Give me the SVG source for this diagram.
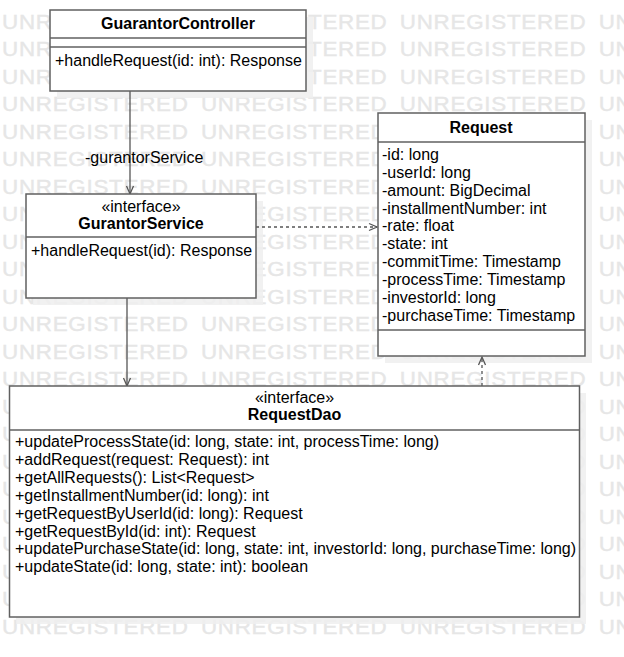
<svg xmlns="http://www.w3.org/2000/svg" width="624" height="657" viewBox="0 0 624 657">
<style>
  .wm { font-family: "Liberation Sans", Arial, sans-serif; font-size: 20px; fill: #e6e6e6; stroke: #e6e6e6; stroke-width: 0.35; letter-spacing: 0.65px; word-spacing: 4.8px; }
  .box { fill: #ffffff; stroke: #606060; stroke-width: 1.5; }
  .shadow { fill: #efefef; fill-opacity: 0.85; }
  .div { stroke: #606060; stroke-width: 1.5; }
  .t { font-family: "Liberation Sans", Arial, Helvetica, sans-serif; font-size: 16px; fill: #000; }
  .b { font-weight: bold; }
  .c { text-anchor: middle; }
  .edge { stroke: #555555; stroke-width: 1.3; fill: none; }
  .dash { stroke-dasharray: 3 3; }
</style>
<rect width="624" height="657" fill="#ffffff"/>
<g id="watermark" transform="scale(1.12,1)">
  <text class="wm" x="1.8" y="29">UNREGISTERED UNREGISTERED UNREGISTERED UNREGISTERED</text>
  <text class="wm" x="1.8" y="56.5">UNREGISTERED UNREGISTERED UNREGISTERED UNREGISTERED</text>
  <text class="wm" x="1.8" y="84">UNREGISTERED UNREGISTERED UNREGISTERED UNREGISTERED</text>
  <text class="wm" x="1.8" y="111.5">UNREGISTERED UNREGISTERED UNREGISTERED UNREGISTERED</text>
  <text class="wm" x="1.8" y="139">UNREGISTERED UNREGISTERED UNREGISTERED UNREGISTERED</text>
  <text class="wm" x="1.8" y="166.5">UNREGISTERED UNREGISTERED UNREGISTERED UNREGISTERED</text>
  <text class="wm" x="1.8" y="194">UNREGISTERED UNREGISTERED UNREGISTERED UNREGISTERED</text>
  <text class="wm" x="1.8" y="221.5">UNREGISTERED UNREGISTERED UNREGISTERED UNREGISTERED</text>
  <text class="wm" x="1.8" y="249">UNREGISTERED UNREGISTERED UNREGISTERED UNREGISTERED</text>
  <text class="wm" x="1.8" y="276.5">UNREGISTERED UNREGISTERED UNREGISTERED UNREGISTERED</text>
  <text class="wm" x="1.8" y="304">UNREGISTERED UNREGISTERED UNREGISTERED UNREGISTERED</text>
  <text class="wm" x="1.8" y="331.5">UNREGISTERED UNREGISTERED UNREGISTERED UNREGISTERED</text>
  <text class="wm" x="1.8" y="359">UNREGISTERED UNREGISTERED UNREGISTERED UNREGISTERED</text>
  <text class="wm" x="1.8" y="386.5">UNREGISTERED UNREGISTERED UNREGISTERED UNREGISTERED</text>
  <text class="wm" x="1.8" y="414">UNREGISTERED UNREGISTERED UNREGISTERED UNREGISTERED</text>
  <text class="wm" x="1.8" y="441.5">UNREGISTERED UNREGISTERED UNREGISTERED UNREGISTERED</text>
  <text class="wm" x="1.8" y="469">UNREGISTERED UNREGISTERED UNREGISTERED UNREGISTERED</text>
  <text class="wm" x="1.8" y="496.5">UNREGISTERED UNREGISTERED UNREGISTERED UNREGISTERED</text>
  <text class="wm" x="1.8" y="524">UNREGISTERED UNREGISTERED UNREGISTERED UNREGISTERED</text>
  <text class="wm" x="1.8" y="551.5">UNREGISTERED UNREGISTERED UNREGISTERED UNREGISTERED</text>
  <text class="wm" x="1.8" y="579">UNREGISTERED UNREGISTERED UNREGISTERED UNREGISTERED</text>
  <text class="wm" x="1.8" y="606.5">UNREGISTERED UNREGISTERED UNREGISTERED UNREGISTERED</text>
  <text class="wm" x="1.8" y="634">UNREGISTERED UNREGISTERED UNREGISTERED UNREGISTERED</text>
</g>
<g id="shadows">
  <rect class="shadow" x="57" y="17" width="256" height="81"/>
  <rect class="shadow" x="33" y="201" width="230" height="104"/>
  <rect class="shadow" x="385" y="120" width="207" height="243"/>
  <rect class="shadow" x="16" y="393" width="570" height="231"/>
</g>
<g id="connectors">
  <line class="edge" x1="130" y1="91" x2="130" y2="194"/>
  <polyline class="edge" points="126.5,186 130,194 133.5,186"/>
  <line class="edge" x1="127" y1="298" x2="127" y2="386"/>
  <polyline class="edge" points="123.5,378 127,386 130.5,378"/>
  <line class="edge dash" x1="256" y1="227" x2="377" y2="227"/>
  <polyline class="edge" points="369,223.5 377,227 369,230.5"/>
  <line class="edge dash" x1="482" y1="386" x2="482" y2="357"/>
  <polyline class="edge" points="478.5,365 482,357 485.5,365"/>
  <text class="t" x="85" y="163">-gurantorService</text>
</g>
<g id="GuarantorController">
  <rect class="box" x="50" y="10" width="256" height="81"/>
  <line class="div" x1="50" y1="38" x2="306" y2="38"/>
  <line class="div" x1="50" y1="47" x2="306" y2="47"/>
  <text class="t b c" x="178" y="29">GuarantorController</text>
  <text class="t" x="55" y="66">+handleRequest(id: int): Response</text>
</g>
<g id="GurantorService">
  <rect class="box" x="26" y="194" width="230" height="104"/>
  <line class="div" x1="26" y1="237" x2="256" y2="237"/>
  <text class="t c" x="141" y="212">«interface»</text>
  <text class="t b c" x="141" y="229">GurantorService</text>
  <text class="t" x="31" y="256">+handleRequest(id): Response</text>
</g>
<g id="Request">
  <rect class="box" x="378" y="113" width="207" height="243"/>
  <line class="div" x1="378" y1="142" x2="585" y2="142"/>
  <line class="div" x1="378" y1="330" x2="585" y2="330"/>
  <text class="t b c" x="481" y="133">Request</text>
  <text class="t" x="382" y="160">-id: long</text>
  <text class="t" x="382" y="177.85">-userId: long</text>
  <text class="t" x="382" y="195.7">-amount: BigDecimal</text>
  <text class="t" x="382" y="213.55">-installmentNumber: int</text>
  <text class="t" x="382" y="231.4">-rate: float</text>
  <text class="t" x="382" y="249.25">-state: int</text>
  <text class="t" x="382" y="267.1">-commitTime: Timestamp</text>
  <text class="t" x="382" y="284.95">-processTime: Timestamp</text>
  <text class="t" x="382" y="302.8">-investorId: long</text>
  <text class="t" x="382" y="320.65">-purchaseTime: Timestamp</text>
</g>
<g id="RequestDao">
  <rect class="box" x="9.5" y="386" width="570" height="231"/>
  <line class="div" x1="9.5" y1="430" x2="579.5" y2="430"/>
  <text class="t c" x="294.5" y="403">«interface»</text>
  <text class="t b c" x="294.5" y="420">RequestDao</text>
  <text class="t" x="15" y="447">+updateProcessState(id: long, state: int, processTime: long)</text>
  <text class="t" x="15" y="464.9">+addRequest(request: Request): int</text>
  <text class="t" x="15" y="482.8">+getAllRequests(): List&lt;Request&gt;</text>
  <text class="t" x="15" y="500.7">+getInstallmentNumber(id: long): int</text>
  <text class="t" x="15" y="518.6">+getRequestByUserId(id: long): Request</text>
  <text class="t" x="15" y="536.5">+getRequestById(id: int): Request</text>
  <text class="t" x="15" y="554.4">+updatePurchaseState(id: long, state: int, investorId: long, purchaseTime: long)</text>
  <text class="t" x="15" y="572.3">+updateState(id: long, state: int): boolean</text>
</g>
</svg>
